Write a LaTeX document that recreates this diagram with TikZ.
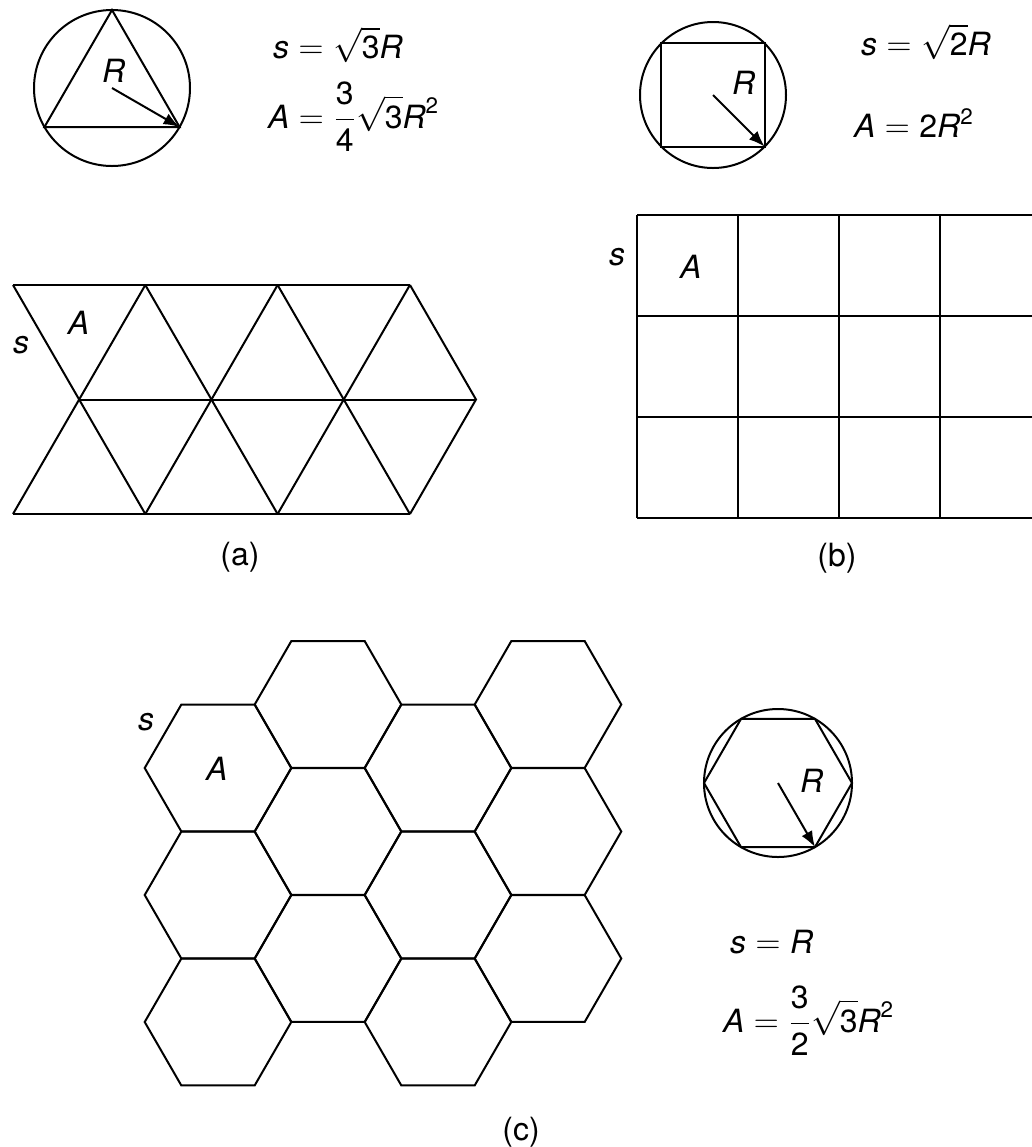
\documentclass[tikz,border=0pt]{standalone}
\usepackage{fontspec}
\setmainfont{TeX Gyre Heros}
\usetikzlibrary{arrows.meta}

\begin{document}
\begin{tikzpicture}[x=0.5pt,y=-0.5pt,line width=1pt,
    every node/.style={inner sep=0pt,font=\fontsize{16}{19}\selectfont},
    radius arrow/.style={-{Latex[length=8pt,width=6pt]}}]
    \useasboundingbox (0,0) rectangle (1032,1147);

    % Triangle in circle
    \coordinate (ctri) at (112,88);
    \draw (ctri) circle[radius=78];
    \draw (ctri) +(270:78) -- +(30:78) -- +(150:78) -- cycle;
    \path (ctri) ++(30:78) coordinate (ptri);
    \draw[radius arrow] (ctri) -- (ptri);
    \node[anchor=base west] (rtri) at (101,82) {$\mathit{R}$};
    \node[anchor=base west] (stri) at (272,58) {$\mathit{s}=\sqrt{\mathrm{3}}\mathit{R}$};
    \node[anchor=base west] (atri) at (267,128) {$\displaystyle\mathit{A}=\frac{\mathrm{3}}{\mathrm{4}}\sqrt{\mathrm{3}}\mathit{R}^{\mathrm{2}}$};

    % Square in circle
    \coordinate (csq) at (713,95);
    \draw (csq) circle[radius=73];
    \draw (csq) +(45:73) -- +(135:73) -- +(225:73) -- +(315:73) -- cycle;
    \path (csq) ++(45:73) coordinate (psq);
    \draw[radius arrow] (csq) -- (psq);
    \node[anchor=base west] (rsq) at (731,94) {$\mathit{R}$};
    \node[anchor=base west] (ssq) at (860,55) {$\mathit{s}=\sqrt{\mathrm{2}}\mathit{R}$};
    \node[anchor=base west] (asq) at (853,137) {$\mathit{A}=\mathrm{2}\mathit{R}^{\mathrm{2}}$};

    % Triangle grid
    \draw (13,285) -- (410,285);
    \draw (79,399.5) -- (476,399.5);
    \draw (13,514) -- (410,514);
    \foreach \i in {0,1,2} {
      \draw (13+132.3*\i,285) -- (145.3+132.3*\i,514);
      \draw (145.3+132.3*\i,285) -- (13+132.3*\i,514);
    }
    \draw (410,285) -- (476,399.5) -- (410,514);
    \node[anchor=base west] (stgrid) at (12,353) {$\mathit{s}$};
    \node[anchor=base west] (atgrid) at (67,334) {$\mathit{A}$};
    \node (capa) at (240,557) {(a)};

    % Square grid
    \foreach \y in {215,316,417,518}
      \draw (637,\y) -- (1032,\y);
    \foreach \x in {637,738,839,940}
      \draw (\x,215) -- (\x,518);
    \node[anchor=base west] (ssgrid) at (608,265) {$\mathit{s}$};
    \node[anchor=base west] (asgrid) at (679,278) {$\mathit{A}$};
    \node (capb) at (837,558) {(b)};

    % Hexagon grid
    \foreach \c in {0,...,3}
      \foreach \r in {0,1,2} {
        \pgfmathsetmacro\cx{218+110*\c}
        \pgfmathsetmacro\cy{768-63.5*mod(\c,2)+127*\r}
        \draw (\cx,\cy) +(0:73.3) -- +(60:73.3) -- +(120:73.3) -- +(180:73.3)
          -- +(240:73.3) -- +(300:73.3) -- cycle;
      }
    \node[anchor=base west] (shgrid) at (137,730) {$\mathit{s}$};
    \node[anchor=base west] (ahgrid) at (205,780) {$\mathit{A}$};
    \node (capc) at (521,1132) {(c)};

    % Hexagon in circle
    \coordinate (chex) at (778,783);
    \draw (chex) circle[radius=74];
    \draw (chex) +(0:74) -- +(60:74) -- +(120:74) -- +(180:74) -- +(240:74) -- +(300:74) -- cycle;
    \path (chex) ++(60:74) coordinate (phex);
    \draw[radius arrow] (chex) -- (phex);
    \node[anchor=base west] (rhex) at (799,792) {$\mathit{R}$};
    \node[anchor=base west] (shex) at (729,953) {$\mathit{s}=\mathit{R}$};
    \node[anchor=base west] (ahex) at (722,1032) {$\displaystyle\mathit{A}=\frac{\mathrm{3}}{\mathrm{2}}\sqrt{\mathrm{3}}\mathit{R}^{\mathrm{2}}$};
\end{tikzpicture}
\end{document}
